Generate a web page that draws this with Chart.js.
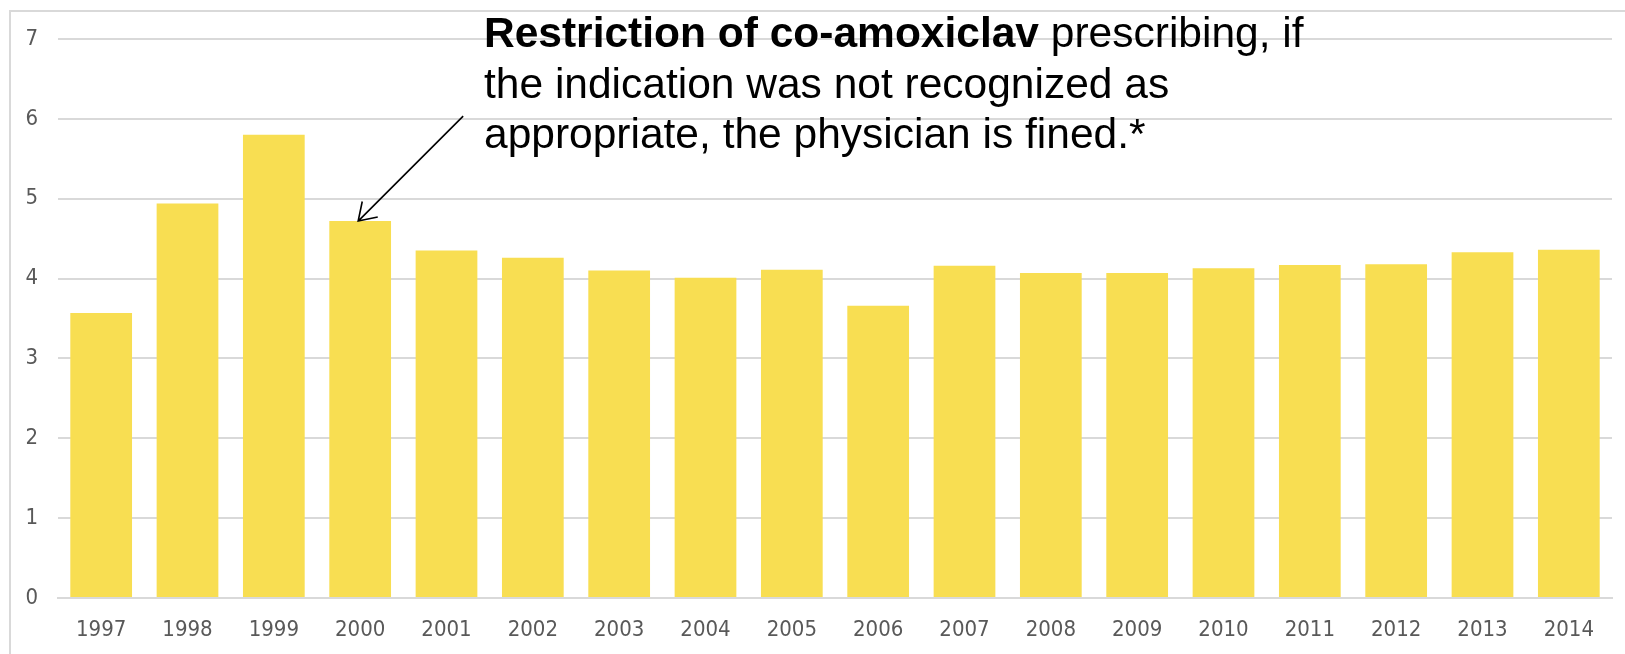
<!DOCTYPE html>
<html>
<head>
<meta charset="utf-8">
<script src="https://cdn.jsdelivr.net/npm/chart.js@4"></script>
<style>
  html, body { margin: 0; padding: 0; background: #ffffff; }
  #wrap { width: 1625px; height: 654px; position: relative; }
</style>
</head>
<body>
<div id="wrap"><canvas id="prescriptions" width="1625" height="654"></canvas></div>
<script>
// années et valeurs
const years = ['1997', '1998', '1999', '2000', '2001', '2002', '2003', '2004', '2005',
               '2006', '2007', '2008', '2009', '2010', '2011', '2012', '2013', '2014'];
const values = [3.57, 4.94, 5.80, 4.72, 4.35, 4.26, 4.10, 4.01, 4.11,
                3.66, 4.16, 4.07, 4.07, 4.13, 4.17, 4.18, 4.33, 4.36];
const yTicks = [0, 1, 2, 3, 4, 5, 6, 7];

const noteBold = 'Restriction of co-amoxiclav';
const noteLines = [' prescribing, if', 'the indication was not recognized as', 'appropriate, the physician is fined.*'];
const noteIndex = 3; // la flèche pointe sur l'année 2000

const barColor = '#F8DE52';
const gridColor = '#d9d9d9';
const tickColor = '#595959';
const tickFont = "'Liberation Sans Narrow', 'DejaVu Sans Condensed', 'Roboto', sans-serif";

// cadre gris autour du graphique
const framePlugin = {
    id: 'frame',
    beforeDraw(chart) {
        const ctx = chart.ctx;
        ctx.save();
        ctx.strokeStyle = gridColor;
        ctx.lineWidth = 2;
        ctx.beginPath();
        ctx.moveTo(10, chart.height);
        ctx.lineTo(10, 11);
        ctx.lineTo(chart.width, 11);
        ctx.stroke();
        ctx.restore();
    }
};

// texte d'annotation + flèche vers la barre 2000
const notePlugin = {
    id: 'note',
    afterDraw(chart) {
        const ctx = chart.ctx;
        const x = chart.scales.x, y = chart.scales.y;
        const tipX = x.getPixelForValue(noteIndex) - 2;
        const tipY = y.getPixelForValue(values[noteIndex]);
        const startX = tipX + 105, startY = tipY - 105;

        ctx.save();
        ctx.strokeStyle = '#000000';
        ctx.lineWidth = 1.6;
        ctx.beginPath();
        ctx.moveTo(startX, startY);
        ctx.lineTo(tipX, tipY);
        const ang = Math.atan2(startY - tipY, startX - tipX);
        const head = 20, spread = 0.58;
        ctx.moveTo(tipX + head * Math.cos(ang - spread), tipY + head * Math.sin(ang - spread));
        ctx.lineTo(tipX, tipY);
        ctx.lineTo(tipX + head * Math.cos(ang + spread), tipY + head * Math.sin(ang + spread));
        ctx.stroke();

        const left = 484, base = 47, lh = 50.5;
        ctx.fillStyle = '#000000';
        ctx.textBaseline = 'alphabetic';
        ctx.font = "bold 42.5px 'Liberation Sans', Arial, sans-serif";
        ctx.fillText(noteBold, left, base);
        const w = ctx.measureText(noteBold).width;
        ctx.font = "42.5px 'Liberation Sans', Arial, sans-serif";
        ctx.fillText(noteLines[0], left + w, base);
        ctx.fillText(noteLines[1], left, base + lh);
        ctx.fillText(noteLines[2], left, base + 2 * lh);
        ctx.restore();
    }
};

new Chart(document.getElementById('prescriptions').getContext('2d'), {
    type: 'bar',
    data: {
        labels: years,
        datasets: [{
            data: values,
            backgroundColor: barColor,
            borderWidth: 0,
            categoryPercentage: 1,
            barPercentage: 0.715
        }]
    },
    options: {
        responsive: false,
        animation: false,
        layout: { padding: { top: 39, right: 13, left: 0, bottom: 0 } },
        scales: {
            x: {
                grid: { display: false, drawTicks: false },
                border: { display: true, color: gridColor, width: 2 },
                ticks: { color: tickColor, padding: 19, font: { family: tickFont, size: 22 }, maxRotation: 0 },
                afterFit: (s) => { s.height = 56; }
            },
            y: {
                min: 0,
                max: 7,
                afterBuildTicks: (s) => { s.ticks = yTicks.map(v => ({ value: v })); },
                grid: { color: gridColor, lineWidth: 2, drawTicks: false },
                border: { display: false },
                ticks: { color: tickColor, padding: 20, font: { family: tickFont, size: 22 } },
                afterFit: (s) => { s.width = 58; }
            }
        },
        plugins: {
            legend: { display: false },
            tooltip: { enabled: false }
        }
    },
    plugins: [framePlugin, notePlugin]
});
</script>
</body>
</html>
